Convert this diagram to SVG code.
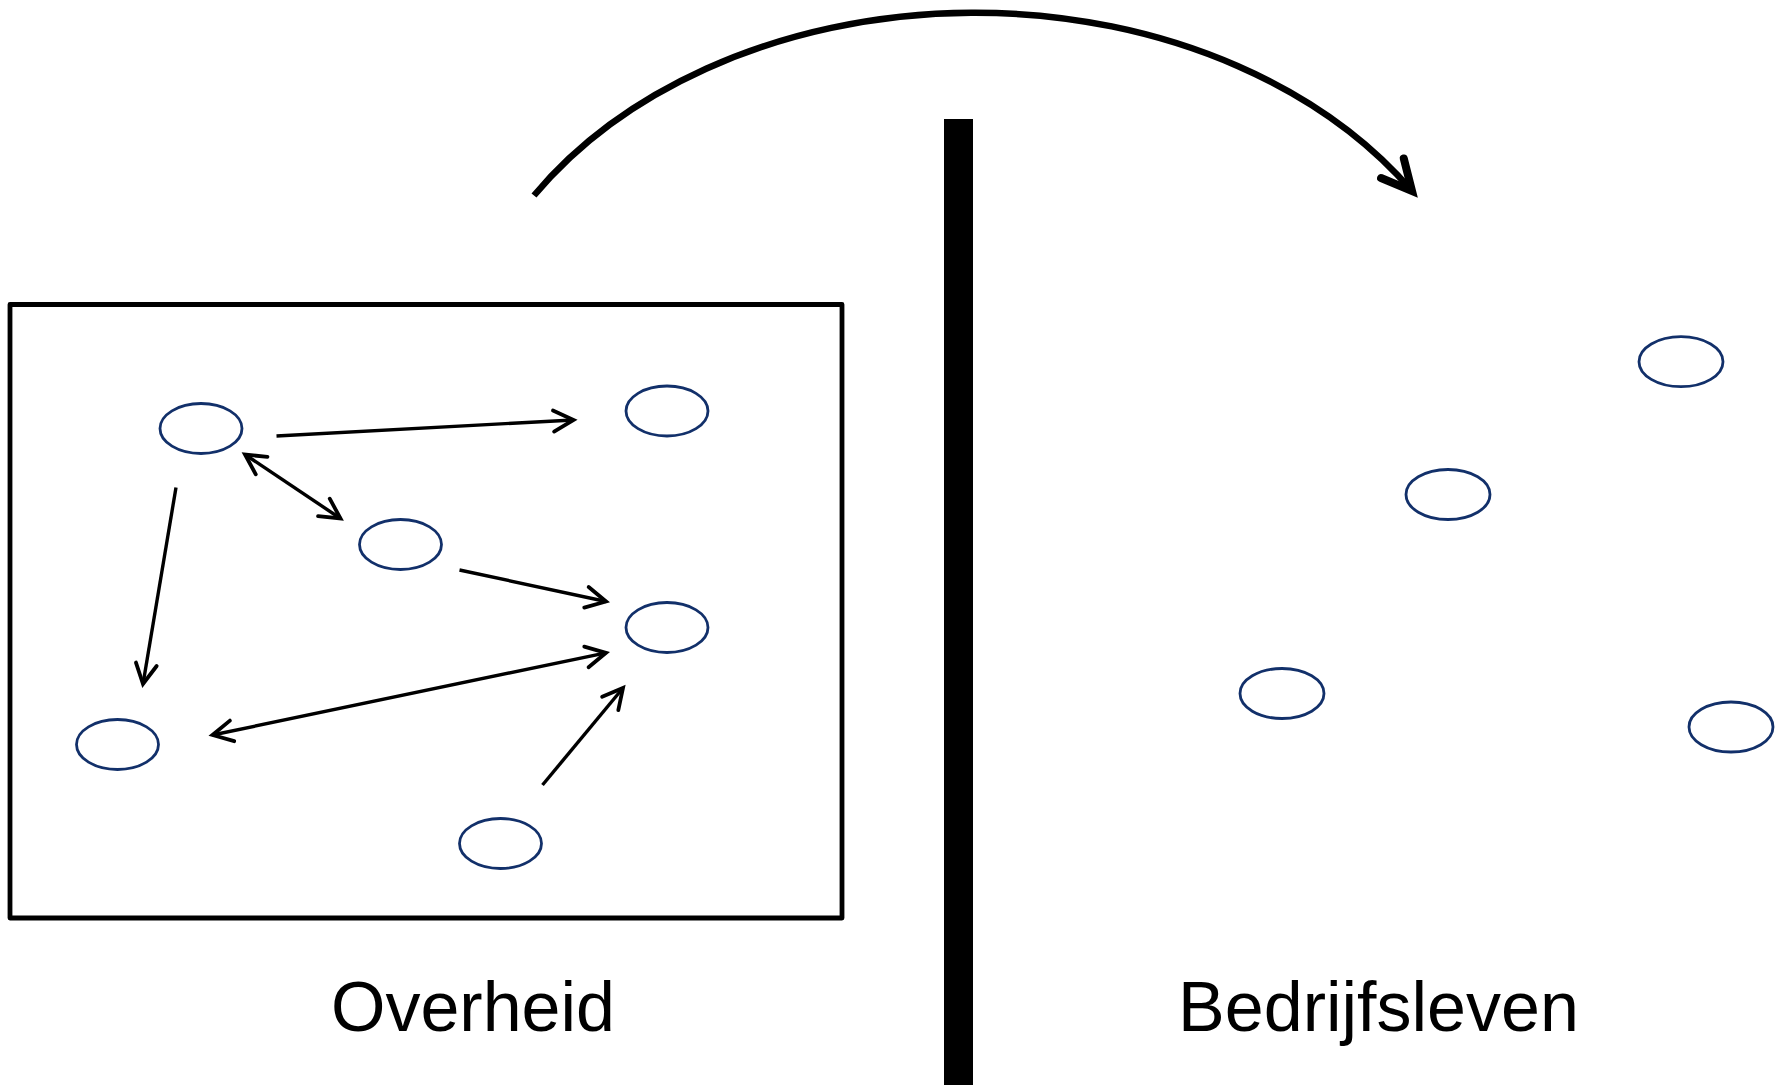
<svg xmlns="http://www.w3.org/2000/svg" width="1783" height="1085" viewBox="0 0 1783 1085">
<style>
.node{fill:#ffffff;stroke:#12306A;stroke-width:2.8}
.conn{fill:none;stroke:#000;stroke-width:3.4}
.frame{fill:none;stroke:#000;stroke-width:4.8;stroke-linejoin:round}
.label{font-family:"Liberation Sans",Arial,sans-serif;font-size:70px;fill:#000;text-anchor:middle}
</style>
<defs>
<marker id="ah" markerUnits="userSpaceOnUse" viewBox="-30 -16 34 32" refX="0" refY="0" markerWidth="34" markerHeight="32" orient="auto-start-reverse" overflow="visible">
<path d="M-20,-10.5 L0,0 L-20,10.5" fill="none" stroke="#000" stroke-width="3.8" stroke-linecap="round"/>
</marker>
<marker id="bigah" markerUnits="userSpaceOnUse" viewBox="-40 -22 46 44" refX="0" refY="0" markerWidth="46" markerHeight="44" orient="auto" overflow="visible">
<path d="M-30,-15 L0,0 L-30,15" fill="none" stroke="#000" stroke-width="8" stroke-linecap="round" stroke-linejoin="miter" stroke-miterlimit="10"/>
</marker>
</defs>
<rect width="1783" height="1085" fill="#fff"/>
<rect id="overheid-box" class="frame" x="10" y="304.5" width="832" height="613.5"/>
<rect id="divider" x="944" y="119" width="29" height="966" fill="#000"/>
<g id="n1"><ellipse class="node" cx="201" cy="428.5" rx="41" ry="25"/></g>
<g id="n2"><ellipse class="node" cx="667" cy="411" rx="41" ry="25"/></g>
<g id="n3"><ellipse class="node" cx="400.5" cy="544.5" rx="41" ry="25"/></g>
<g id="n4"><ellipse class="node" cx="667" cy="627.5" rx="41" ry="25"/></g>
<g id="n5"><ellipse class="node" cx="117.5" cy="744.5" rx="41" ry="25"/></g>
<g id="n6"><ellipse class="node" cx="500.5" cy="843.5" rx="41" ry="25"/></g>
<g id="n7"><ellipse class="node" cx="1681" cy="361.7" rx="42" ry="25"/></g>
<g id="n8"><ellipse class="node" cx="1448" cy="494.5" rx="42" ry="25"/></g>
<g id="n9"><ellipse class="node" cx="1282" cy="693.5" rx="42" ry="25"/></g>
<g id="n10"><ellipse class="node" cx="1731" cy="727" rx="42" ry="25"/></g>
<g id="connectors">
<line class="conn" x1="276.5" y1="436" x2="573.5" y2="420" marker-end="url(#ah)"/>
<line class="conn" x1="245" y1="454.5" x2="340.5" y2="518.5" marker-start="url(#ah)" marker-end="url(#ah)"/>
<line class="conn" x1="176" y1="487.5" x2="143" y2="684" marker-end="url(#ah)"/>
<line class="conn" x1="459.5" y1="570" x2="606" y2="601.5" marker-end="url(#ah)"/>
<line class="conn" x1="212.5" y1="735" x2="606" y2="652.8" marker-start="url(#ah)" marker-end="url(#ah)"/>
<line class="conn" x1="542.5" y1="785" x2="623" y2="688" marker-end="url(#ah)"/>
<path d="M534,195.5 A520 389 0 0 1 1412,191" fill="none" stroke="#000" stroke-width="6.5" marker-end="url(#bigah)"/>
</g>
<text class="label" x="473" y="1031">Overheid</text>
<text class="label" x="1378.5" y="1031">Bedrijfsleven</text>
</svg>
